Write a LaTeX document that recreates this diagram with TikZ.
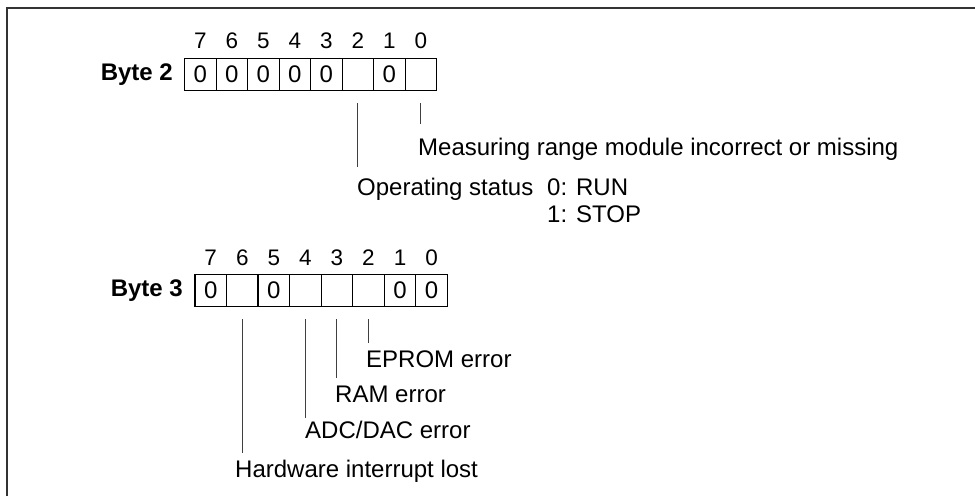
\documentclass[tikz,border=0pt]{standalone}
\usepackage{fontspec}
\setmainfont{Liberation Sans}
\begin{document}
\begin{tikzpicture}[x=1pt,y=-1pt,
  cell/.style={draw=black,line width=1.3pt,minimum width=31.5pt,minimum height=32pt,inner sep=0pt,anchor=north west,font=\fontsize{24}{27}\selectfont},
  bitno/.style={anchor=base,inner sep=0pt,font=\fontsize{22.5}{27}\selectfont},
  bytelbl/.style={anchor=base east,inner sep=0pt,font=\fontsize{24}{27}\selectfont\bfseries},
  txt/.style={anchor=base west,inner sep=0pt,font=\fontsize{24}{27}\selectfont},
  conn/.style={draw=black!75,line width=1pt},
  frame/.style={draw=black!80,line width=2pt}]
\useasboundingbox (0,0) rectangle (975,496);
% frame
\draw[frame] (7,496) -- (7,8) -- (975,8);

% Byte 2
\node[bytelbl] (byte2) at (173,80) {Byte 2};
\foreach \b/\v in {7/0,6/0,5/0,4/0,3/0,2/{},1/0,0/{}}{
  \pgfmathsetmacro\cx{184+(7-\b)*31.5}
  \node[cell] (b2\b) at (\cx,58) {\v};
  \node[bitno] (b2n\b) at ([yshift=10pt]b2\b.north) {\b};
}
% Byte 3
\node[bytelbl] (byte3) at (183,296) {Byte 3};
\foreach \b/\v in {7/0,6/{},5/0,4/{},3/{},2/{},1/0,0/0}{
  \pgfmathsetmacro\cx{194.3+(7-\b)*31.55}
  \node[cell,minimum width=31.55pt] (b3\b) at (\cx,274) {\v};
  \node[bitno] (b3n\b) at ([yshift=9pt]b3\b.north) {\b};
}

% Byte 2 labels
\node[txt] (meas) at (418,155) {Measuring range module incorrect or missing};
\node[txt] (opst) at (357,195) {Operating status};
\node[txt] (run) at (547,195) {0: RUN};
\node[txt] (stop) at (547,222) {1: STOP};
\coordinate (e20) at (b20.south |- 0,124);
\coordinate (e22) at (b22.south |- 0,167);
\draw[conn] ([yshift=-12pt]b20.south) -- (e20);
\draw[conn] ([yshift=-12pt]b22.south) -- (e22);

% Byte 3 labels
\node[txt] (eprom) at (366,367) {EPROM error};
\node[txt] (ram) at (335,402) {RAM error};
\node[txt] (adc) at (305,438) {ADC/DAC error};
\node[txt] (hw) at (235,477) {Hardware interrupt lost};
\coordinate (e32) at (b32.south |- 0,343);
\coordinate (e33) at (b33.south |- 0,378);
\coordinate (e34) at (b34.south |- 0,418);
\coordinate (e36) at (b36.south |- 0,453);
\foreach \b in {2,3,4,6}{
  \draw[conn] ([yshift=-12pt]b3\b.south) -- (e3\b);
}
\end{tikzpicture}
\end{document}
